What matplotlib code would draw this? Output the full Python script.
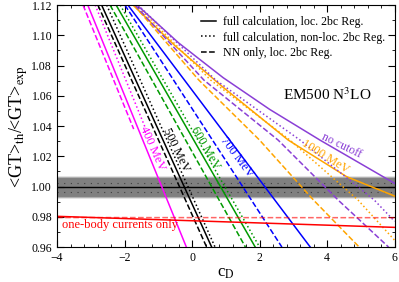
import matplotlib
matplotlib.use("Agg")
import matplotlib.pyplot as plt
from matplotlib.lines import Line2D
from matplotlib.ticker import MultipleLocator, FormatStrFormatter

plt.rcParams["font.family"] = ["Liberation Serif", "DejaVu Serif"]
plt.rcParams["mathtext.fontset"] = "stix"

# straight lines: c_D where the ratio crosses 1.12 and 0.96
gt_top_bot = [1.12, 0.96]
cd_400_full = [-3.09, -0.17]
cd_500_full = [-2.68, 0.58]
cd_500_nonloc = [-2.53, 0.68]
cd_500_nn = [-2.79, 0.43]
cd_600_full = [-2.25, 1.87]
cd_600_nonloc = [-2.13, 2.0]
cd_600_nn = [-2.43, 1.58]
cd_700_full = [-1.90, 3.50]
cd_700_nn = [-1.99, 2.66]

# short magenta lines (stop at the label)
gt_400_short = [1.12, 1.038]
cd_400_nonloc = [-2.87, -1.37]
cd_400_nn = [-3.23, -1.73]

# curved lines
cd_1000_full = [-1.75, -0.5, 0.9, 2.85, 4.58, 6.0]
gt_1000_full = [1.12, 1.093, 1.066, 1.0307, 1.0065, 0.9937]
cd_1000_nonloc = [-1.65, 0.55, 2.9, 4.92, 6.0]
gt_1000_nonloc = [1.12, 1.0704, 1.0307, 0.991, 0.9645]
cd_1000_nn = [-1.72, 0.2, 2.0, 3.6, 4.95]
gt_1000_nn = [1.12, 1.0704, 1.0307, 0.991, 0.96]
cd_nocut_full = [-1.63, -0.4, 0.92, 2.3, 3.79, 6.0]
gt_nocut_full = [1.12, 1.095, 1.072, 1.051, 1.0307, 1.0021]
cd_nocut_nonloc = [-1.6, 0.7, 3.2, 5.4, 6.0]
gt_nocut_nonloc = [1.12, 1.0704, 1.0307, 0.991, 0.977]
cd_nocut_nn = [-1.69, 0.35, 2.55, 4.33, 5.82]
gt_nocut_nn = [1.12, 1.0704, 1.0307, 0.991, 0.96]

# one-body currents
cd_edges = [-4, 6]
gt_1b_full = [0.9803, 0.9730]
gt_1b_nn = [0.9795, 0.9794]

band_lo, band_hi = 0.993, 1.0063

magenta = "#ff00ff"
green = "#009a00"
blue = "#0000ff"
orange = "#ffa500"
purple = "#8a3fd6"
red = "#ff0000"

fig = plt.figure(figsize=(3.99, 2.82), dpi=100)
ax = fig.add_axes([0.143, 0.124, 0.846, 0.858])

# experimental band
ax.axhspan(band_lo, band_hi, color="#808080", zorder=1)
ax.axhline(band_hi, color="#b0b0b0", lw=0.8, zorder=1)
ax.axhline(band_lo, color="#b0b0b0", lw=0.8, zorder=1)
ax.axhline(1.0025, color="#404040", lw=0.8, ls=(0, (1, 5)), zorder=1)
ax.axhline(0.9965, color="#404040", lw=0.8, ls=(0, (1, 5)), zorder=1)
ax.axhline(1.0, color="black", lw=1.0, zorder=2)

lw = 1.1
ax.plot(cd_400_full, gt_top_bot, color=magenta, lw=lw)
ax.plot(cd_400_nonloc, gt_400_short, color=magenta, lw=lw, ls=":")
ax.plot(cd_400_nn, gt_400_short, color=magenta, lw=lw, ls="--")

ax.plot(cd_500_full, gt_top_bot, color="black", lw=lw)
ax.plot(cd_500_nonloc, gt_top_bot, color="black", lw=lw, ls=":")
ax.plot(cd_500_nn, gt_top_bot, color="black", lw=lw, ls="--")

ax.plot(cd_600_full, gt_top_bot, color=green, lw=lw)
ax.plot(cd_600_nonloc, gt_top_bot, color=green, lw=lw, ls=":")
ax.plot(cd_600_nn, gt_top_bot, color=green, lw=lw, ls="--")

ax.plot(cd_700_full, gt_top_bot, color=blue, lw=lw)
ax.plot(cd_700_nn, gt_top_bot, color=blue, lw=lw, ls="--")

ax.plot(cd_1000_full, gt_1000_full, color=orange, lw=lw)
ax.plot(cd_1000_nonloc, gt_1000_nonloc, color=orange, lw=lw, ls=":")
ax.plot(cd_1000_nn, gt_1000_nn, color=orange, lw=lw, ls="--")

ax.plot(cd_nocut_full, gt_nocut_full, color=purple, lw=lw)
ax.plot(cd_nocut_nonloc, gt_nocut_nonloc, color=purple, lw=lw, ls=":")
ax.plot(cd_nocut_nn, gt_nocut_nn, color=purple, lw=lw, ls="--")

ax.plot(cd_edges, gt_1b_full, color=red, lw=lw)
ax.plot(cd_edges, gt_1b_nn, color=red, lw=lw, ls="--", alpha=0.6)

# labels on the lines
fs = 9
ax.text(-1.19, 1.0254, "400 MeV", color=magenta, fontsize=fs, rotation=-66,
        ha="center", va="center")
ax.text(-0.47, 1.024, "500 MeV", color="black", fontsize=fs, rotation=-64,
        ha="center", va="center")
ax.text(0.39, 1.0254, "600 MeV", color=green, fontsize=fs, rotation=-60,
        ha="center", va="center")
ax.text(1.33, 1.0195, "700 MeV", color=blue, fontsize=fs, rotation=-53,
        ha="center", va="center")
ax.text(3.94, 1.0195, "1000 MeV", color=orange, fontsize=fs, rotation=-32,
        ha="center", va="center")
ax.text(4.44, 1.0268, "no cutoff", color=purple, fontsize=fs - 0.5, rotation=-26,
        ha="center", va="center")
ax.text(-3.85, 0.9745, "one-body currents only", color=red, fontsize=fs,
        ha="left", va="center")
ax.text(4.0, 1.061, "EM500 N$^3$LO", fontsize=11, ha="center", va="center")

handles = [
    Line2D([], [], color="black", lw=1.1),
    Line2D([], [], color="black", lw=1.1, ls=":"),
    Line2D([], [], color="black", lw=1.1, ls="--"),
]
labels = [
    "full calculation, loc. 2bc Reg.",
    "full calculation, non-loc. 2bc Reg.",
    "NN only, loc. 2bc Reg.",
]
ax.legend(handles, labels, loc="upper left", bbox_to_anchor=(0.425, 0.955),
          frameon=False, fontsize=8.6, handlelength=1.3, handletextpad=0.6,
          labelspacing=0.3, borderaxespad=0, borderpad=0)

ax.set_xlim(-4, 6)
ax.set_ylim(0.96, 1.12)
ax.xaxis.set_major_locator(MultipleLocator(2))
ax.xaxis.set_minor_locator(MultipleLocator(0.4))
ax.yaxis.set_major_locator(MultipleLocator(0.02))
ax.yaxis.set_minor_locator(MultipleLocator(0.01))
ax.yaxis.set_major_formatter(FormatStrFormatter("%.2f"))
ax.tick_params(which="both", direction="in", top=True, right=True, labelsize=8.5)
ax.tick_params(which="major", length=5)
ax.tick_params(which="minor", length=2.5)

ax.set_xlabel("c$_{\\rm D}$", fontsize=12, labelpad=1)
ax.set_ylabel("<GT>$_{\\rm th}$/<GT>$_{\\rm exp}$", fontsize=13, labelpad=1)

fig.savefig("out.png", dpi=100)
